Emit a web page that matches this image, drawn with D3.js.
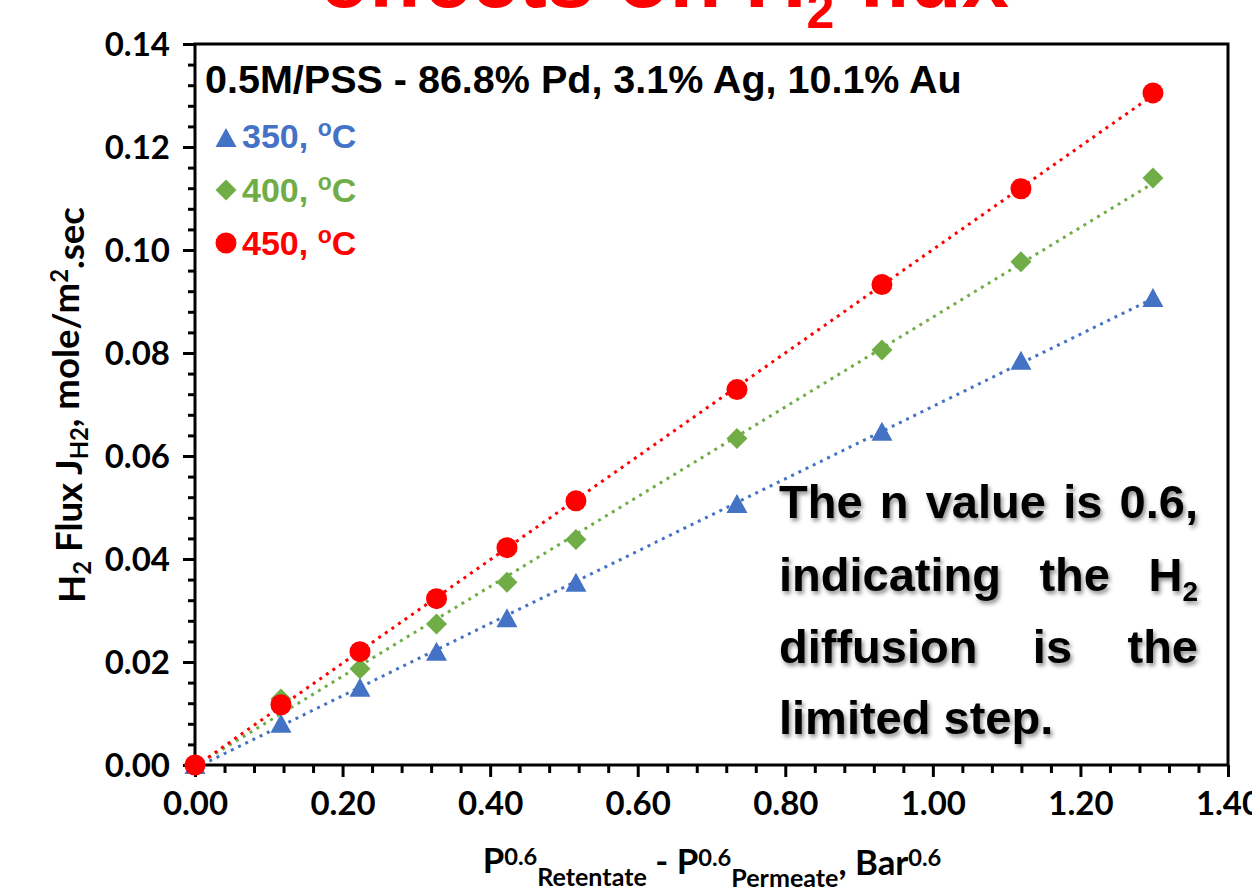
<!DOCTYPE html>
<html><head><meta charset="utf-8">
<script src="https://cdn.jsdelivr.net/npm/d3@7"></script>
<style>body{margin:0;background:#fff;} svg{display:block;}</style>
</head><body>
<svg id="chart" width="1252" height="893"></svg>
<script>
// ---- data ----
const xValues = [0, 0.1165, 0.2236, 0.3273, 0.4228, 0.5163, 0.7345, 0.9310, 1.1194, 1.2983];
const flux350 = [0, 0.0080, 0.0150, 0.0220, 0.0285, 0.0354, 0.0507, 0.0647, 0.0785, 0.0907];
const flux400 = [0, 0.0128, 0.0187, 0.0274, 0.0355, 0.0438, 0.0634, 0.0806, 0.0977, 0.1140];
const flux450 = [0, 0.0117, 0.0220, 0.0323, 0.0422, 0.0513, 0.0729, 0.0933, 0.1119, 0.1305];
const seriesLabels = ["350, ", "400, ", "450, "];
const seriesColors = ["#4472C4", "#70AD47", "#FF0000"];
const seriesShapes = ["triangle", "diamond", "circle"];
const xTicks = [0, 0.2, 0.4, 0.6, 0.8, 1.0, 1.2, 1.4];
const yTicks = [0, 0.02, 0.04, 0.06, 0.08, 0.10, 0.12, 0.14];
const chartTitle = "0.5M/PSS - 86.8% Pd, 3.1% Ag, 10.1% Au";
const annotationLines = [["The","n","value","is","0.6,"],["indicating","the","H_2"],["diffusion","is","the"],["limited step."]];

const series = [flux350, flux400, flux450];

const svg = d3.select("#chart");
const L = 195, R = 1228, T = 44, B = 765;
const x = d3.scaleLinear().domain([0, 1.4]).range([L, R]);
const y = d3.scaleLinear().domain([0, 0.14]).range([B, T]);
const ARIAL = "'Liberation Sans', Arial, sans-serif";
const CALI = "Lato, 'Open Sans', sans-serif";

// defs
const defs = svg.append("defs");
const filt = defs.append("filter").attr("id","shadow").attr("x","-10%").attr("y","-20%").attr("width","130%").attr("height","150%");
filt.append("feDropShadow").attr("dx",2).attr("dy",3).attr("stdDeviation",2).attr("flood-color","#000").attr("flood-opacity",0.45);

// top title (cut off at the top edge, as in the source)
const topTitle = svg.append("text").attr("x",320).attr("y",7).attr("font-family",ARIAL).attr("font-weight","bold")
  .attr("font-size",85).attr("fill","#FF0000");
topTitle.append("tspan").text("effects on H");
topTitle.append("tspan").attr("font-size",50).attr("dy",21).text("2");
topTitle.append("tspan").attr("dy",-21).text(" flux");

// axes ticks
function styleAxis(g){ g.select(".domain").remove(); g.selectAll("line").attr("stroke","#000").attr("stroke-width",3); }
const yMinor = d3.range(0, 0.1401, 0.004).filter(v => !yTicks.some(t => Math.abs(t - v) < 1e-6));
svg.append("g").attr("transform",`translate(${L},0)`).call(d3.axisLeft(y).tickValues(yMinor).tickSize(7).tickFormat("")).call(styleAxis);
svg.append("g").attr("transform",`translate(${L},0)`)
  .call(d3.axisLeft(y).tickValues(yTicks).tickSize(12).tickPadding(13).tickFormat(d3.format(".2f")))
  .call(styleAxis)
  .call(g => g.selectAll("text").attr("font-family",CALI).attr("font-weight","bold").attr("font-size",33).attr("fill","#000").attr("dy","0.36em"));
const xMinor = d3.range(0, 1.4001, 0.04).filter(v => !xTicks.some(t => Math.abs(t - v) < 1e-6));
svg.append("g").attr("transform",`translate(0,${B})`).call(d3.axisBottom(x).tickValues(xMinor).tickSize(8).tickFormat("")).call(styleAxis);
svg.append("g").attr("transform",`translate(0,${B})`)
  .call(d3.axisBottom(x).tickValues(xTicks).tickSize(12).tickFormat(d3.format(".2f")))
  .call(styleAxis)
  .call(g => g.selectAll("text").attr("font-family",CALI).attr("font-weight","bold").attr("font-size",33).attr("fill","#000").attr("y",50).attr("dy",0));

// plot box
svg.append("rect").attr("x",L).attr("y",T).attr("width",R-L).attr("height",B-T).attr("fill","none").attr("stroke","#000").attr("stroke-width",3);

// trendlines (least squares)
function fit(xs, ys){
  const n = xs.length, mx = d3.mean(xs), my = d3.mean(ys);
  let sxy = 0, sxx = 0;
  for (let i=0;i<n;i++){ sxy += (xs[i]-mx)*(ys[i]-my); sxx += (xs[i]-mx)**2; }
  const m = sxy/sxx; return {m, b: my - m*mx};
}
series.forEach((s,i) => {
  const r = fit(xValues, s);
  const x0 = d3.min(xValues), x1 = d3.max(xValues);
  svg.append("line").attr("x1",x(x0)).attr("y1",y(r.m*x0+r.b)).attr("x2",x(x1)).attr("y2",y(r.m*x1+r.b))
    .attr("stroke",seriesColors[i]).attr("stroke-width",3).attr("stroke-dasharray","3 5");
});

function marker(g, shape, color, cx, cy){
  if (shape === "circle") g.append("circle").attr("cx",cx).attr("cy",cy).attr("r",10.5).attr("fill",color);
  else if (shape === "triangle") g.append("path").attr("d",`M${cx},${cy-10}L${cx+10.5},${cy+9}L${cx-10.5},${cy+9}Z`).attr("fill",color);
  else g.append("path").attr("d",`M${cx},${cy-10.5}L${cx+10.5},${cy}L${cx},${cy+10.5}L${cx-10.5},${cy}Z`).attr("fill",color);
}
series.forEach((s,i) => {
  const g = svg.append("g");
  s.forEach((v,j) => marker(g, seriesShapes[i], seriesColors[i], x(xValues[j]), y(v)));
});

// chart title
svg.append("text").attr("x",205).attr("y",93).attr("font-family",ARIAL).attr("font-weight","bold").attr("font-size",39.5).attr("fill","#000").text(chartTitle);

// legend
const legY = [148, 202, 255], legMarkY = [138, 190, 243];
seriesLabels.forEach((lab,i) => {
  const g = svg.append("g");
  marker(g, seriesShapes[i], seriesColors[i], 226, legMarkY[i]);
  const t = g.append("text").attr("x",242).attr("y",legY[i]).attr("font-family",ARIAL).attr("font-weight","bold").attr("font-size",34).attr("fill",seriesColors[i]);
  t.append("tspan").text(lab);
  t.append("tspan").attr("font-size",23).attr("dy",-12).text("o");
  t.append("tspan").attr("dy",12).text("C");
});

// y axis label
const yl = svg.append("text").attr("transform","translate(85,405) rotate(-90)").attr("text-anchor","middle")
  .attr("font-family",CALI).attr("font-weight","bold").attr("font-size",30).attr("fill","#000");
yl.append("tspan").text("H");
yl.append("tspan").attr("font-size","65%").attr("dy","0.25em").text("2");
yl.append("tspan").attr("dy","-0.25em").text(" Flux J");
yl.append("tspan").attr("font-size","65%").attr("dy","0.25em").text("H2");
yl.append("tspan").attr("dy","-0.25em").text(", mole/m");
yl.append("tspan").attr("font-size","65%").attr("dy","-0.45em").text("2");
yl.append("tspan").attr("dy","0.45em").text(".sec");

// x axis label
const xl = svg.append("text").attr("x",712).attr("y",873).attr("text-anchor","middle")
  .attr("font-family",CALI).attr("font-weight","bold").attr("font-size",30).attr("fill","#000");
xl.append("tspan").text("P");
xl.append("tspan").attr("font-size","68%").attr("dy","-0.35em").text("0.6");
xl.append("tspan").attr("font-size","72%").attr("dy","0.85em").text("Retentate");
xl.append("tspan").attr("dy","-0.35em").text(" - P");
xl.append("tspan").attr("font-size","68%").attr("dy","-0.35em").text("0.6");
xl.append("tspan").attr("font-size","72%").attr("dy","0.85em").text("Permeate");
xl.append("tspan").attr("dy","-0.35em").text(", Bar");
xl.append("tspan").attr("font-size","68%").attr("dy","-0.35em").text("0.6");

function fitWidth(sel, target){
  const w = sel.node().getBBox().width;
  const fs = parseFloat(sel.attr("font-size"));
  sel.attr("font-size", fs*target/w);
}
fitWidth(yl, 396);
fitWidth(xl, 459);

// annotation (justified)
const aL = 779, aR = 1198, aBase = [518, 591, 663, 734];
const ag = svg.append("g").attr("filter","url(#shadow)");
annotationLines.forEach((words, li) => {
  const nodes = words.map(w => {
    const t = ag.append("text").attr("y",aBase[li]).attr("font-family",ARIAL).attr("font-weight","bold").attr("font-size",47).attr("fill","#000");
    if (w.includes("_")) {
      const [b, s] = w.split("_");
      t.append("tspan").text(b);
      t.append("tspan").attr("font-size",28).attr("dy",10).text(s);
    } else t.text(w);
    return t;
  });
  const widths = nodes.map(n => n.node().getComputedTextLength());
  const last = li === annotationLines.length - 1;
  const gap = (nodes.length > 1 && !last) ? (aR - aL - d3.sum(widths)) / (nodes.length - 1) : 13;
  let cx = aL;
  nodes.forEach((n,k) => { n.attr("x", cx); cx += widths[k] + gap; });
});
</script>
</body></html>
